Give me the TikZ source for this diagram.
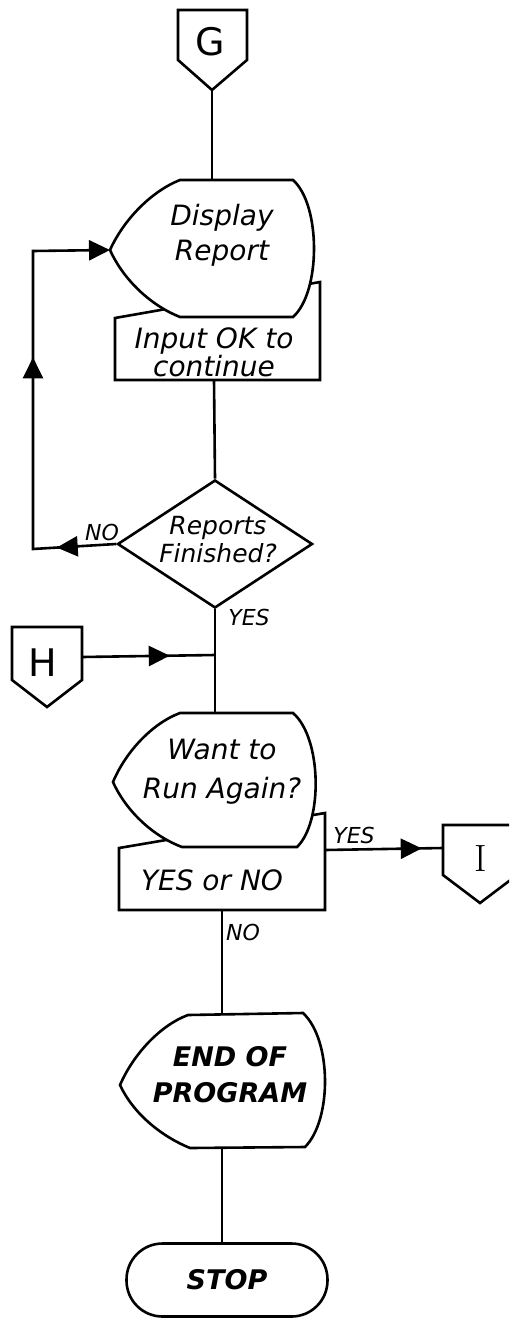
\documentclass[tikz,border=0pt]{standalone}
\usepackage{fontspec}
\setsansfont{DejaVu Sans}[ItalicFont={DejaVu Sans Oblique},BoldFont={DejaVu Sans Bold},BoldItalicFont={DejaVu Sans Bold Oblique}]
\usepackage{tikz}
\usetikzlibrary{arrows.meta,shapes.geometric,decorations.markings}

\begin{document}
\begin{tikzpicture}[x=1pt,y=-1pt,line width=2.6pt,
  >={Triangle[length=21pt,width=20pt]},
  hand/.style={font=\sffamily\itshape\fontsize{28}{#1}\selectfont,align=center},
  hand/.default=32,
  caps/.style={font=\sffamily\bfseries\itshape\fontsize{27}{#1}\selectfont,align=center},
  caps/.default=36,
  lbl/.style={font=\sffamily\itshape\fontsize{22}{24}\selectfont},
  conn/.style={font=\sffamily\fontsize{38}{40}\selectfont},
  midarr/.style={postaction={decorate},decoration={markings,
    mark=at position #1 with {\arrow{Triangle[length=21pt,width=20pt]}}}}]
  \clip (0,0) rectangle (509,1319);

  % off-page connectors
  \draw (178,10) -- (247,10) -- (247,60) -- (212,90) -- (178,60) -- cycle;
  \node[conn] (gconn) at (210,42) {G};
  \coordinate (g-bot) at (212,90);

  \draw (12,627) -- (82,627) -- (82,680) -- (47,707) -- (12,680) -- cycle;
  \node[conn] (hconn) at (43,663) {H};
  \coordinate (h-east) at (82,657);

  \draw (443,825) -- (517,825) -- (517,875) -- (480,903) -- (443,875) -- cycle;
  \node[font=\rmfamily\fontsize{38}{40}\selectfont] (iconn) at (481,859) {I};
  \coordinate (i-west) at (443,848);

  % manual input boxes
  \draw (115,318) -- (320,282) -- (320,380) -- (115,380) -- cycle;
  \draw (119,848) -- (325,813) -- (325,910) -- (119,910) -- cycle;

  % display boxes
  \draw[fill=white] (110,250) .. controls (124,219) and (152,191) .. (180,180)
    -- (293,180) .. controls (321,205) and (321,292) .. (293,317)
    -- (180,317) .. controls (152,306) and (124,281) .. (110,250) -- cycle;
  \draw[fill=white] (113,782) .. controls (126,751) and (153,723) .. (180,713)
    -- (293,713) .. controls (322,738) and (323,822) .. (297,847)
    -- (182,847) .. controls (155,837) and (127,813) .. (113,782) -- cycle;
  \draw[fill=white] (120,1085) .. controls (134,1053) and (161,1025) .. (188,1015)
    -- (303,1013) .. controls (332,1040) and (332,1120) .. (305,1147)
    -- (190,1148) .. controls (163,1137) and (134,1115) .. (120,1085) -- cycle;

  \coordinate (d1-top) at (212,180);
  \coordinate (d1-tip) at (110,250);
  \coordinate (mi1-bot) at (214,380);
  \coordinate (d2-top) at (215,713);
  \coordinate (mi2-right) at (325,850);
  \coordinate (mi2-bot) at (222,910);
  \coordinate (d3-top) at (222,1014);
  \coordinate (d3-bot) at (222,1148);

  \node[hand=35] (show) at (222,235) {Display\\Report};
  \node[hand=27] (okin) at (214,352) {Input OK to\\continue};
  \node[hand=39] (again) at (222,772) {Want to\\Run Again?};
  \node[hand] (yesno) at (212,880) {YES or NO};
  \node[caps] (endprog) at (230,1075) {END OF\\PROGRAM};

  % decision
  \node[diamond,draw,minimum width=195pt,minimum height=128pt,inner sep=0pt] (fin) at (215,544) {};
  \node[align=center,font=\sffamily\itshape\fontsize{25}{28}\selectfont] (fintxt) at (218,540) {Reports\\Finished?};

  % terminal
  \node[draw,rounded corners=36pt,minimum width=201pt,minimum height=73pt,
    caps] (stop) at (227,1280) {STOP};

  % flow
  \draw (g-bot) -- (d1-top);
  \draw (mi1-bot) -- (fin.north);
  \draw (fin.south) -- (d2-top);
  \coordinate (hjoin) at (215,655);
  \draw[midarr=0.66] (h-east) -- (hjoin);
  \draw[midarr=0.82] (mi2-right) -- (i-west);
  \draw (mi2-bot) -- (d3-top);
  \draw (d3-bot) -- (d3-bot |- stop.north);

  % loop back
  \coordinate (loop-bl) at (33,549);
  \coordinate (loop-tl) at (33,251);
  \draw[->,postaction={decorate},decoration={markings,
      mark=at position 0.13 with {\arrow{Triangle[length=21pt,width=20pt]}},
      mark=at position 0.60 with {\arrow{Triangle[length=21pt,width=20pt]}}}]
    (fin.west) -- (loop-bl) -- (loop-tl) -- (d1-tip);

  \node[lbl] (lno) at (102,532) {NO};
  \node[lbl] (lyes) at (249,617) {YES};
  \node[lbl] (ryes) at (354,835) {YES};
  \node[lbl] (bno) at (243,932) {NO};
\end{tikzpicture}
\end{document}
